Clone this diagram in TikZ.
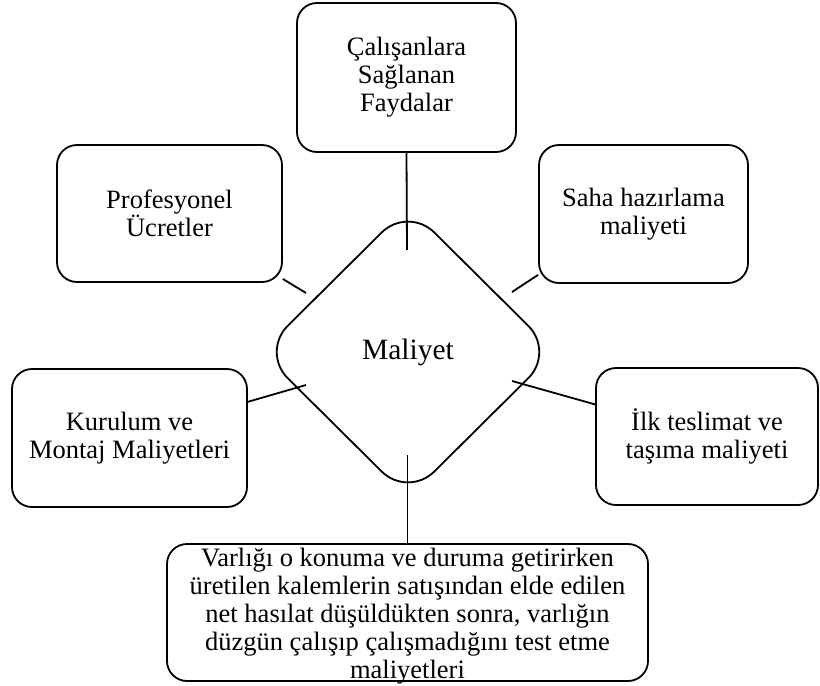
\documentclass[tikz,border=0pt]{standalone}
\usepackage{fontspec}
\setmainfont{Liberation Serif}
\usetikzlibrary{shapes.geometric}
\tikzset{
  costbox/.style={draw, line width=1.8pt, rounded corners=20pt, align=center, inner sep=0pt,
    font=\fontsize{26.5}{28}\selectfont},
  hub/.style={draw, diamond, line width=1.8pt, rounded corners=37pt, inner sep=0pt,
    minimum width=294pt, minimum height=292pt, font=\fontsize{29.5}{32}\selectfont},
  spoke/.style={line width=1.8pt}
}
\begin{document}
\begin{tikzpicture}[x=1pt,y=-1pt]
\useasboundingbox (0,0) rectangle (820,686);
\node[hub] (maliyet) at (408,352) {Maliyet};
\node[costbox, minimum width=219pt, minimum height=149pt] (fayda) at (406.5,77.5) {Çalışanlara\\Sağlanan\\Faydalar};
\node[costbox, minimum width=225pt, minimum height=137pt] (ucret) at (169.5,213.5) {Profesyonel\\Ücretler};
\node[costbox, minimum width=209pt, minimum height=138pt] (saha) at (643.5,214) {Saha hazırlama\\maliyeti};
\node[costbox, minimum width=235pt, minimum height=138pt] (kurulum) at (129.5,438) {Kurulum ve\\Montaj Maliyetleri};
\node[costbox, minimum width=222pt, minimum height=137pt] (teslimat) at (707,436.5) {İlk teslimat ve\\taşıma maliyeti};
\node[costbox, minimum width=481pt, minimum height=137pt] (test) at (407.5,612.5) {};
\node[costbox, draw=none] (testText) at (407.5,616.5) {Varlığı o konuma ve duruma getirirken\\üretilen kalemlerin satışından elde edilen\\net hasılat düşüldükten sonra, varlığın\\düzgün çalışıp çalışmadığını test etme\\maliyetleri};
\coordinate (faydaEnd) at (407,250);
\coordinate (ucretEnd) at (306,293);
\coordinate (sahaEnd) at (512,292);
\coordinate (kurulumEnd) at (306,385);
\coordinate (teslimatEnd) at (512,381);
\coordinate (testEnd) at (407.5,455);
\draw[spoke] (fayda.south) -- (faydaEnd);
\draw[spoke] (ucret.-30) -- (ucretEnd);
\draw[spoke] (saha.210) -- (sahaEnd);
\draw[spoke] (kurulum.17) -- (kurulumEnd);
\draw[spoke] (teslimat.164) -- (teslimatEnd);
\draw[spoke] (test.north) -- (testEnd);
\end{tikzpicture}
\end{document}
